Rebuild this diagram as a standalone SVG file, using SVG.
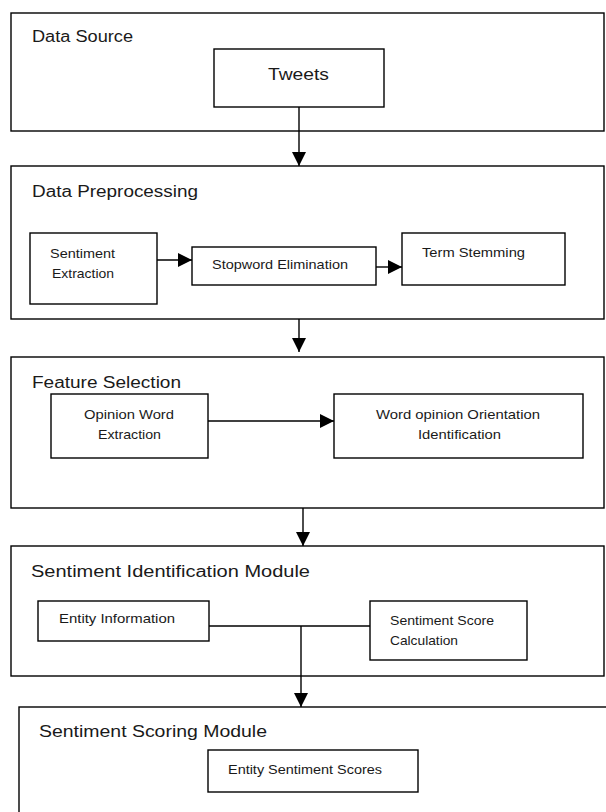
<svg xmlns="http://www.w3.org/2000/svg" width="606" height="812" viewBox="0 0 606 812">
<style>
.box{fill:#fff;stroke:#000;stroke-width:1.4}
.hdr{font-family:"Liberation Sans",Arial,sans-serif;font-size:16px;fill:#1a1a1a}
.lbl{font-family:"Liberation Sans",Arial,sans-serif;font-size:13px;fill:#1a1a1a}
.conn{stroke:#000;stroke-width:1.4;fill:none}
</style>
<defs>
<marker id="ah" markerUnits="userSpaceOnUse" markerWidth="14" markerHeight="14" refX="14" refY="7" orient="auto">
<path d="M0,0 L14,7 L0,14 Z" fill="#000"/>
</marker>
</defs>
<rect width="606" height="812" fill="#fff"/>

<g id="data-source">
<rect class="box" x="11" y="13" width="593" height="118"/>
<text class="hdr" x="32" y="42" textLength="101" lengthAdjust="spacingAndGlyphs">Data Source</text>
</g>
<g id="tweets">
<rect class="box" x="214" y="49" width="170" height="58"/>
<text class="hdr" x="268" y="80" textLength="61" lengthAdjust="spacingAndGlyphs">Tweets</text>
</g>

<g id="data-preprocessing">
<rect class="box" x="11" y="166" width="593" height="153"/>
<text class="hdr" x="32" y="197" textLength="166" lengthAdjust="spacingAndGlyphs">Data Preprocessing</text>
</g>
<g id="sentiment-extraction">
<rect class="box" x="30" y="233" width="127" height="71"/>
<text class="lbl" x="50" y="258" textLength="65" lengthAdjust="spacingAndGlyphs">Sentiment</text>
<text class="lbl" x="52" y="278" textLength="62" lengthAdjust="spacingAndGlyphs">Extraction</text>
</g>
<g id="stopword-elimination">
<rect class="box" x="192" y="247" width="184" height="38"/>
<text class="lbl" x="212" y="269" textLength="136" lengthAdjust="spacingAndGlyphs">Stopword Elimination</text>
</g>
<g id="term-stemming">
<rect class="box" x="402" y="233" width="163" height="52"/>
<text class="lbl" x="422" y="257" textLength="103" lengthAdjust="spacingAndGlyphs">Term Stemming</text>
</g>

<g id="feature-selection">
<rect class="box" x="11" y="357" width="593" height="151"/>
<text class="hdr" x="32" y="388" textLength="149" lengthAdjust="spacingAndGlyphs">Feature Selection</text>
</g>
<g id="opinion-word-extraction">
<rect class="box" x="51" y="394" width="157" height="64"/>
<text class="lbl" x="84" y="419" textLength="90" lengthAdjust="spacingAndGlyphs">Opinion Word</text>
<text class="lbl" x="98" y="439" textLength="63" lengthAdjust="spacingAndGlyphs">Extraction</text>
</g>
<g id="word-opinion-orientation">
<rect class="box" x="334" y="394" width="249" height="64"/>
<text class="lbl" x="376" y="419" textLength="164" lengthAdjust="spacingAndGlyphs">Word opinion Orientation</text>
<text class="lbl" x="418" y="439" textLength="83" lengthAdjust="spacingAndGlyphs">Identification</text>
</g>

<g id="sentiment-identification-module">
<rect class="box" x="11" y="546" width="593" height="130"/>
<text class="hdr" x="31" y="577" textLength="279" lengthAdjust="spacingAndGlyphs">Sentiment Identification  Module</text>
</g>
<g id="entity-information">
<rect class="box" x="38" y="601" width="171" height="40"/>
<text class="lbl" x="59" y="623" textLength="116" lengthAdjust="spacingAndGlyphs">Entity Information</text>
</g>
<g id="sentiment-score-calculation">
<rect class="box" x="370" y="601" width="157" height="59"/>
<text class="lbl" x="390" y="625" textLength="104" lengthAdjust="spacingAndGlyphs">Sentiment Score</text>
<text class="lbl" x="390" y="645" textLength="68" lengthAdjust="spacingAndGlyphs">Calculation</text>
</g>

<g id="sentiment-scoring-module">
<rect class="box" x="19" y="707" width="600" height="120"/>
<text class="hdr" x="39" y="737" textLength="228" lengthAdjust="spacingAndGlyphs">Sentiment Scoring Module</text>
</g>
<g id="entity-sentiment-scores">
<rect class="box" x="208" y="750" width="210" height="42"/>
<text class="lbl" x="228" y="774" textLength="154" lengthAdjust="spacingAndGlyphs">Entity Sentiment Scores</text>
</g>

<g id="connectors">
<line class="conn" x1="299" y1="107" x2="299" y2="166" marker-end="url(#ah)"/>
<line class="conn" x1="157" y1="260" x2="192" y2="260" marker-end="url(#ah)"/>
<line class="conn" x1="376" y1="267" x2="402" y2="267" marker-end="url(#ah)"/>
<line class="conn" x1="299" y1="319" x2="299" y2="352" marker-end="url(#ah)"/>
<line class="conn" x1="208" y1="421" x2="334" y2="421" marker-end="url(#ah)"/>
<line class="conn" x1="303" y1="508" x2="303" y2="546" marker-end="url(#ah)"/>
<line class="conn" x1="209" y1="626" x2="370" y2="626"/>
<line class="conn" x1="301" y1="626" x2="301" y2="707" marker-end="url(#ah)"/>
</g>
</svg>
